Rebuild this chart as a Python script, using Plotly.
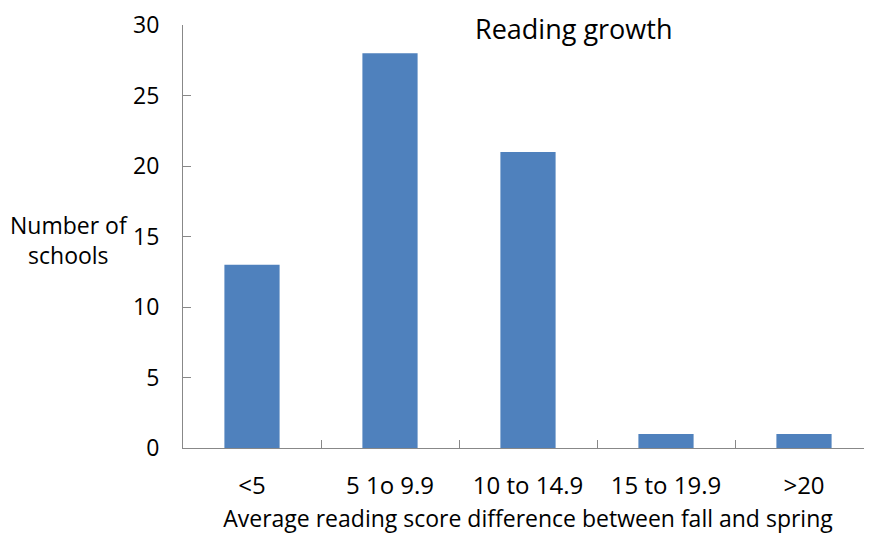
import plotly.graph_objects as go

categories = ["<5", "5 1o 9.9", "10 to 14.9", "15 to 19.9", ">20"]
schools = [13, 28, 21, 1, 1]
y_ticks = [0, 5, 10, 15, 20, 25, 30]

FONT = "Open Sans"

fig = go.Figure(go.Bar(x=categories, y=schools, marker_color="#4F81BD",
                       marker_line_width=0))

# page has an 8px body margin; margins compensate for it
L, R, T, B = 175, 7, 17, 98
W, H = 872, 538
pw = W - L - R
ph = H - T - B

fig.update_layout(
    width=W, height=H,
    margin=dict(l=L, r=R, t=T, b=B),
    paper_bgcolor="white", plot_bgcolor="white",
    bargap=0.6,
    showlegend=False,
    font=dict(family=FONT, size=23, color="black"),
    xaxis=dict(
        automargin=False,
        showline=True, linecolor="#888888", linewidth=1,
        ticks="inside", ticklen=8, tickcolor="#888888", tickson="boundaries",
        showgrid=False, tickfont=dict(size=24),
        ticklabelstandoff=16,
        title=dict(text="Average reading score difference between fall and spring",
                   font=dict(size=23), standoff=11),
    ),
    yaxis=dict(
        automargin=False,
        range=[0, 30], tickvals=y_ticks,
        showline=True, linecolor="#888888", linewidth=1,
        ticks="inside", ticklen=8, tickcolor="#888888",
        showgrid=False, zeroline=False, tickfont=dict(size=23),
        ticklabelstandoff=18,
    ),
    annotations=[
        dict(text="Reading growth", xref="paper", yref="paper",
             x=(565 - L) / pw, y=1.0 + T / ph, xanchor="center", yanchor="top",
             showarrow=False, font=dict(size=27)),
        dict(text="Number of<br>schools", xref="paper", yref="paper",
             x=(60.5 - L) / pw, y=(H - B - 232) / ph, xanchor="center",
             yanchor="middle", showarrow=False, font=dict(size=23)),
    ],
)

fig.write_html("out.html")
